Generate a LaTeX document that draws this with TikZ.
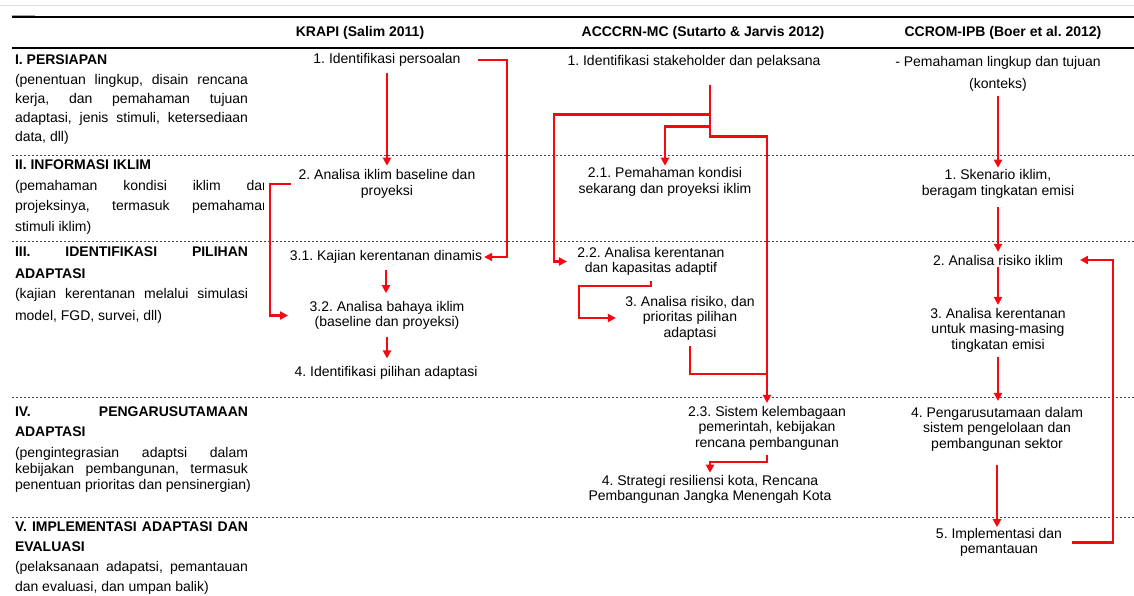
\documentclass[tikz,border=0pt]{standalone}
\usepackage{fontspec}
\setmainfont{Liberation Sans}
\usetikzlibrary{arrows.meta,calc}
\definecolor{flowred}{RGB}{245,8,18}
\definecolor{rulegray}{RGB}{70,70,70}
\frenchspacing
% a line of justified text in the left column
\newcommand{\jline}[2][233pt]{\makebox[#1][s]{#2}}

\begin{document}
\begin{tikzpicture}[x=1pt,y=-1pt,
  every node/.style={inner sep=0pt, outer sep=0pt, font=\fontsize{14}{15.5}\selectfont},
  cell/.style={align=center},
  head/.style={font=\fontsize{14}{15.5}\selectfont\bfseries},
  side/.style={anchor=base west},
  flow/.style={draw=flowred, line width=2.2pt},
  arr/.style={flow, -{Triangle[length=8pt,width=8pt]}},
  rowrule/.style={draw=rulegray, line width=0.8pt, dash pattern=on 2.4pt off 1.6pt},
]
\useasboundingbox (0,0) rectangle (1134,596);
\clip (0,0) rectangle (1134,596);
\fill[white] (0,0) rectangle (1134,596);

% table rules
\draw[gray!25, line width=0.8pt] (0,5) -- (1134,5);
\draw[gray!70, line width=1.5pt] (12,15.5) -- (35,15.5);
\draw[black, line width=2pt] (12,17) -- (1134,17);
\draw[black, line width=1.6pt] (12,48) -- (1134,48);
\foreach \y in {155,241,397,517} \draw[rowrule] (12,\y) -- (1134,\y);

% column heads
\node[head] (hk) at (360,33) {KRAPI (Salim 2011)};
\node[head] (ha) at (703,33) {ACCCRN-MC (Sutarto \& Jarvis 2012)};
\node[head] (hc) at (1003,33) {CCROM-IPB (Boer et al. 2012)};

% stage descriptions
\node[side] (s1t) at (15,65) {\bfseries I. PERSIAPAN};
\node[side] (s1a) at (15,85) {\jline{(penentuan lingkup, disain rencana}};
\node[side] (s1b) at (15,104) {\jline{kerja, dan pemahaman tujuan}};
\node[side] (s1c) at (15,123) {\jline{adaptasi, jenis stimuli, ketersediaan}};
\node[side] (s1d) at (15,142) {data, dll)};

\begin{scope}
  \clip (0,150) rectangle (263,240);
  \node[side] (s2t) at (15,170) {\bfseries II. INFORMASI IKLIM};
  \node[side] (s2a) at (15,190) {\jline[255pt]{(pemahaman kondisi iklim dan}};
  \node[side] (s2b) at (15,210.5) {\jline[255pt]{projeksinya, termasuk pemahaman}};
  \node[side] (s2c) at (15,231) {stimuli iklim)};
\end{scope}

\node[side] (s3t) at (15,256.5) {\jline{\bfseries III. IDENTIFIKASI PILIHAN}};
\node[side] (s3u) at (15,278) {\bfseries ADAPTASI};
\node[side] (s3a) at (15,298) {\jline{(kajian kerentanan melalui simulasi}};
\node[side] (s3b) at (15,320) {model, FGD, survei, dll)};

\node[side] (s4t) at (15,416) {\jline{\bfseries IV. PENGARUSUTAMAAN}};
\node[side] (s4u) at (15,436) {\bfseries ADAPTASI};
\node[side] (s4a) at (15,457) {\jline{(pengintegrasian adaptsi dalam}};
\node[side] (s4b) at (15,473) {\jline{kebijakan pembangunan, termasuk}};
\node[side] (s4c) at (15,489) {penentuan prioritas dan pensinergian)};

\node[side] (s5t) at (15,531) {\jline{\bfseries V. IMPLEMENTASI ADAPTASI DAN}};
\node[side] (s5u) at (15,551) {\bfseries EVALUASI};
\node[side] (s5a) at (15,571) {\jline{(pelaksanaan adapatsi, pemantauan}};
\node[side] (s5b) at (15,591) {dan evaluasi, dan umpan balik)};

% KRAPI steps
\node[cell] (k1) at (387,60) {1. Identifikasi persoalan};
\node[cell] (k2) at (387,184) {2. Analisa iklim baseline dan\\proyeksi};
\node[cell] (k31) at (386,257) {3.1. Kajian kerentanan dinamis};
\node[cell] (k32) at (387,315.5) {3.2. Analisa bahaya iklim\\(baseline dan proyeksi)};
\node[cell] (k4) at (386,373) {4. Identifikasi pilihan adaptasi};

% ACCCRN-MC steps
\node[cell] (a1) at (694,62) {1. Identifikasi stakeholder dan pelaksana};
\node[cell] (a21) at (665,182) {2.1. Pemahaman kondisi\\sekarang dan proyeksi iklim};
\node[cell] (a22) at (651,261.5) {2.2. Analisa kerentanan\\dan kapasitas adaptif};
\node[cell] (a3) at (690,318) {3. Analisa risiko, dan\\prioritas pilihan\\adaptasi};
\node[cell] (a23) at (767,428) {2.3. Sistem kelembagaan\\pemerintah, kebijakan\\rencana pembangunan};
\node[cell] (a4) at (710,489.5) {4. Strategi resiliensi kota, Rencana\\Pembangunan Jangka Menengah Kota};

% CCROM-IPB steps
\node[cell] (c0) at (998,74) {- Pemahaman lingkup dan tujuan\\[6.5pt](konteks)};
\node[cell] (c1) at (998,184) {1. Skenario iklim,\\beragam tingkatan emisi};
\node[cell] (c2) at (998,260) {2. Analisa risiko iklim};
\node[cell] (c3) at (998,330) {3. Analisa kerentanan\\untuk masing-masing\\tingkatan emisi};
\node[cell] (c4) at (997,429) {4. Pengarusutamaan dalam\\sistem pengelolaan dan\\pembangunan sektor};
\node[cell] (c5) at (999,542.5) {5. Implementasi dan\\pemantauan};

% KRAPI flow
\draw[arr, shorten <=6.5pt, shorten >=4pt] (k1.south) -- (k1.south |- k2.north);
\draw[arr] ([xshift=17.5pt]k1.east) -| ([xshift=25pt]k31.east) -- ([xshift=2pt]k31.east);
\draw[arr] ([xshift=-7.5pt]k2.west) -| ([xshift=-39.5pt]k32.west) -- ([xshift=-21.5pt]k32.west);
\draw[arr, shorten <=6.5pt, shorten >=8pt] (k31.south) -- (k31.south |- k32.north);
\draw[arr, shorten <=7pt, shorten >=8pt] (k32.south) -- (k32.south |- k4.north);

% ACCCRN-MC flow
\coordinate (aj) at ([xshift=16pt,yshift=-16pt]a1.south);
\draw[arr] (aj) -- ++(0,30) -| ([xshift=-23.5pt]a22.west) -- ([xshift=-10.5pt]a22.west);
\draw[arr, shorten >=2pt] (aj) -- ++(0,42) -| (a21.north);
\draw[arr, shorten >=3pt] (aj) -- ++(0,52) -| (a23.north);
\draw[arr] ([yshift=-5pt]a22.south) -- ++(0,5) -- ++(-72,0) |- ([xshift=-9.5pt]a3.west);
\draw[flow] ([yshift=-6pt]a3.south) -- ++(0,28) coordinate (a3b) -- (a3b -| a23.north);
\draw[arr, shorten >=2.5pt] ([yshift=-5pt]a23.south) -- ++(0,7) -| (a4.north);

% CCROM-IPB flow
\draw[arr, shorten <=4pt, shorten >=2pt] (c0.south) -- (c0.south |- c1.north);
\draw[arr, shorten <=9pt, shorten >=3pt] (c1.south) -- (c1.south |- c2.north);
\draw[arr, shorten <=1.5pt, shorten >=3pt] (c2.south) -- (c2.south |- c3.north);
\draw[arr, shorten <=5pt, shorten >=6pt] (c3.south) -- (c3.south |- c4.north);
\draw[arr, shorten <=14pt, shorten >=1pt] (c4.south) -- (c4.south |- c5.north);
\draw[arr] ([xshift=10pt]c5.east) -| ([xshift=50pt]c2.east) -- ([xshift=17pt]c2.east);
\end{tikzpicture}
\end{document}
